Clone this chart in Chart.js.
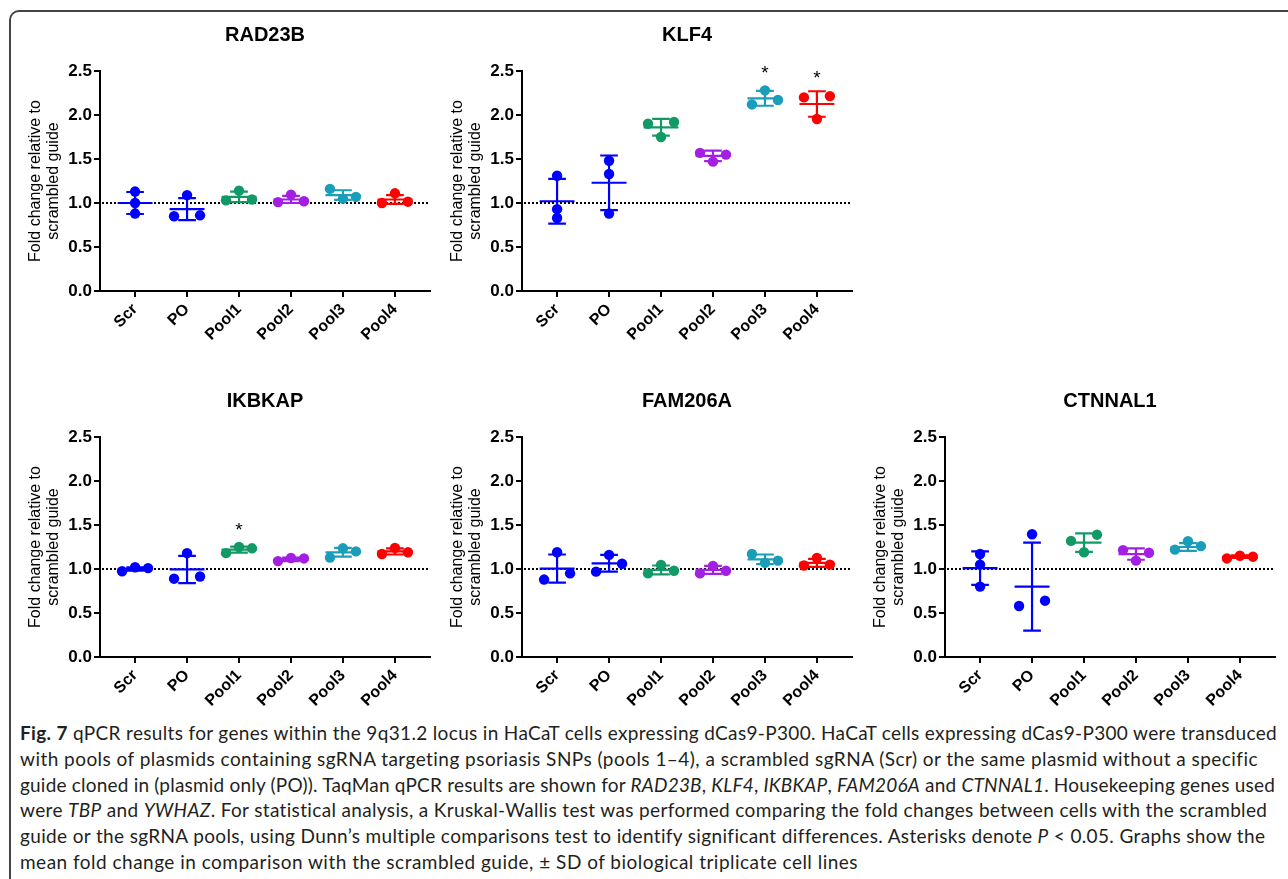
<!DOCTYPE html>
<html>
<head>
<meta charset="utf-8">
<script src="https://cdn.jsdelivr.net/npm/chart.js@4.4.0/dist/chart.umd.min.js"></script>
<style>
  html, body { margin: 0; padding: 0; background: #fff; }
  body { width: 1288px; height: 879px; position: relative; overflow: hidden; }
  .frame { position: absolute; left: 9px; top: 10px; right: 0; bottom: -20px;
           border-top: 2px solid #444; border-left: 2px solid #444; border-top-left-radius: 10px; }
  .panel { position: absolute; }
  .caption { position: absolute; left: 20px; top: 720px; font-family: Lato, 'Noto Sans', sans-serif;
             font-size: 19px; line-height: 25.8px; color: #231f20; white-space: nowrap; }
  .caption span { display: inline-block; }
</style>
</head>
<body>
<div class="frame"></div>
<canvas id="rad23b" class="panel" width="422" height="329" style="left:16px;top:22px"></canvas>
<canvas id="klf4" class="panel" width="422" height="329" style="left:438px;top:22px"></canvas>
<canvas id="ikbkap" class="panel" width="422" height="329" style="left:16px;top:388px"></canvas>
<canvas id="fam206a" class="panel" width="422" height="329" style="left:438px;top:388px"></canvas>
<canvas id="ctnnal1" class="panel" width="422" height="329" style="left:861px;top:388px"></canvas>

<div class="caption" id="caption">
  <div><span><b>Fig. 7</b> qPCR results for genes within the 9q31.2 locus in HaCaT cells expressing dCas9-P300. HaCaT cells expressing dCas9-P300 were transduced</span></div>
  <div><span>with pools of plasmids containing sgRNA targeting psoriasis SNPs (pools 1–4), a scrambled sgRNA (Scr) or the same plasmid without a specific</span></div>
  <div><span>guide cloned in (plasmid only (PO)). TaqMan qPCR results are shown for <i>RAD23B</i>, <i>KLF4</i>, <i>IKBKAP</i>, <i>FAM206A</i> and <i>CTNNAL1</i>. Housekeeping genes used</span></div>
  <div><span>were <i>TBP</i> and <i>YWHAZ</i>. For statistical analysis, a Kruskal-Wallis test was performed comparing the fold changes between cells with the scrambled</span></div>
  <div><span>guide or the sgRNA pools, using Dunn’s multiple comparisons test to identify significant differences. Asterisks denote <i>P</i> &lt; 0.05. Graphs show the</span></div>
  <div><span>mean fold change in comparison with the scrambled guide, ± SD of biological triplicate cell lines</span></div>
</div>

<script>
const groups = ['Scr', 'PO', 'Pool1', 'Pool2', 'Pool3', 'Pool4'];
const groupColors = ['#0000ff', '#0000ff', '#129a66', '#a21fe3', '#1a9db9', '#ff0000'];
const yTicks = [0, 0.5, 1.0, 1.5, 2.0, 2.5];

// RAD23B
const rad23bReps = [[1.13, 1.0, 0.88], [1.09, 0.85, 0.86], [1.14, 1.03, 1.04], [1.01, 1.095, 1.02], [1.16, 1.05, 1.07], [1.11, 1.0, 1.015]];
const rad23bMean = [1.0, 0.93, 1.07, 1.04, 1.09, 1.04];
const rad23bSd = [0.125, 0.125, 0.06, 0.04, 0.055, 0.05];
const rad23bStars = ['', '', '', '', '', ''];

// KLF4
const klf4Reps = [[1.31, 0.93, 0.83], [1.48, 1.33, 0.88], [1.90, 1.92, 1.75], [1.57, 1.47, 1.55], [2.28, 2.12, 2.17], [2.20, 2.215, 1.955]];
const klf4Mean = [1.02, 1.23, 1.86, 1.535, 2.19, 2.125];
const klf4Sd = [0.255, 0.31, 0.095, 0.06, 0.085, 0.145];
const klf4Stars = ['', '', '', '', '*', '*'];

// IKBKAP
const ikbkapReps = [[0.975, 1.02, 1.01], [1.18, 0.89, 0.915], [1.18, 1.25, 1.235], [1.09, 1.125, 1.12], [1.13, 1.235, 1.2], [1.17, 1.24, 1.19]];
const ikbkapMean = [1.0, 0.995, 1.22, 1.11, 1.19, 1.2];
const ikbkapSd = [0.02, 0.155, 0.035, 0.02, 0.05, 0.035];
const ikbkapStars = ['', '', '*', '', '', ''];

// FAM206A
const fam206aReps = [[1.19, 0.88, 0.95], [1.16, 0.97, 1.06], [0.95, 1.045, 0.98], [0.95, 1.035, 0.98], [1.17, 1.07, 1.095], [1.04, 1.125, 1.05]];
const fam206aMean = [1.005, 1.065, 0.99, 0.99, 1.11, 1.07];
const fam206aSd = [0.16, 0.095, 0.05, 0.045, 0.055, 0.045];
const fam206aStars = ['', '', '', '', '', ''];

// CTNNAL1
const ctnnal1Reps = [[1.17, 1.05, 0.80], [1.395, 0.58, 0.64], [1.32, 1.39, 1.19], [1.215, 1.095, 1.185], [1.22, 1.315, 1.26], [1.12, 1.15, 1.14]];
const ctnnal1Mean = [1.01, 0.80, 1.30, 1.17, 1.25, 1.14];
const ctnnal1Sd = [0.19, 0.50, 0.105, 0.065, 0.045, 0.015];
const ctnnal1Stars = ['', '', '', '', '', ''];

const FONT = "'Liberation Sans', Arial, sans-serif";

// replicas que se tocan se ponen lado a lado (como GraphPad)
function spread(vals) {
  const order = vals.map((v, i) => i).sort((a, b) => vals[a] - vals[b]);
  const rows = [];
  order.forEach(i => {
    const last = rows[rows.length - 1];
    if (last && vals[i] - vals[last[last.length - 1]] < 0.095) last.push(i);
    else rows.push([i]);
  });
  const off = new Array(vals.length).fill(0);
  rows.forEach(r => {
    r.sort((a, b) => a - b);
    const slots = r.length === 1 ? [0] : r.length === 2 ? [-1, 1] : [-1, 0, 1];
    r.forEach((i, k) => { off[i] = slots[k] * 0.25; });
  });
  return off;
}

// linea punteada, media +- SD, asteriscos y titulo del panel
const meanSdPlugin = {
  id: 'meanSd',
  beforeDatasetsDraw(chart) {
    const { ctx, chartArea, scales: { y } } = chart;
    const py = y.getPixelForValue(1);
    ctx.save();
    ctx.strokeStyle = '#000';
    ctx.lineWidth = 2;
    ctx.setLineDash([2, 2]);
    ctx.beginPath();
    ctx.moveTo(chartArea.left + 2, py);
    ctx.lineTo(chartArea.right, py);
    ctx.stroke();
    ctx.restore();
  },
  afterDatasetsDraw(chart, args, opts) {
    const { ctx, scales: { x, y } } = chart;
    ctx.save();
    ctx.lineWidth = 2.2;
    opts.mean.forEach((m, i) => {
      const s = opts.sd[i];
      ctx.strokeStyle = groupColors[i];
      const hi = y.getPixelForValue(m + s), lo = y.getPixelForValue(m - s), mid = y.getPixelForValue(m);
      ctx.beginPath();
      ctx.moveTo(x.getPixelForValue(i - 0.336), mid);
      ctx.lineTo(x.getPixelForValue(i + 0.336), mid);
      ctx.moveTo(x.getPixelForValue(i - 0.17), hi);
      ctx.lineTo(x.getPixelForValue(i + 0.17), hi);
      ctx.moveTo(x.getPixelForValue(i - 0.17), lo);
      ctx.lineTo(x.getPixelForValue(i + 0.17), lo);
      ctx.moveTo(x.getPixelForValue(i), hi);
      ctx.lineTo(x.getPixelForValue(i), lo);
      ctx.stroke();
      if (opts.stars[i]) {
        const top = Math.min(y.getPixelForValue(Math.max(...opts.reps[i])) - 5, hi - 1);
        ctx.fillStyle = '#000';
        ctx.font = '19px ' + FONT;
        ctx.textAlign = 'center';
        ctx.textBaseline = 'alphabetic';
        ctx.fillText(opts.stars[i], x.getPixelForValue(i), top - 17 + 11);
      }
    });
    ctx.restore();
  },
  afterDraw(chart, args, opts) {
    const { ctx, chartArea } = chart;
    ctx.save();
    ctx.fillStyle = '#000';
    ctx.font = 'bold 20px ' + FONT;
    ctx.textAlign = 'center';
    ctx.textBaseline = 'middle';
    ctx.fillText(opts.title, (chartArea.left + chartArea.right) / 2, chartArea.top - 35.5);
    ctx.restore();
  }
};

function makePanel(id, title, reps, mean, sd, stars) {
  const ctx = document.getElementById(id).getContext('2d');
  const datasets = reps.map((vals, i) => {
    const off = spread(vals);
    return {
      label: groups[i],
      data: vals.map((v, k) => ({ x: i + off[k], y: v })),
      backgroundColor: groupColors[i],
      borderWidth: 0,
      pointRadius: 5.2,
      pointHoverRadius: 5.2
    };
  });
  new Chart(ctx, {
    type: 'scatter',
    data: { datasets: datasets },
    options: {
      responsive: false,
      animation: false,
      layout: { padding: { left: 0, right: 8, top: 49, bottom: 0 } },
      scales: {
        x: {
          type: 'linear',
          min: -0.675,
          max: 5.675,
          afterBuildTicks: s => { s.ticks = groups.map((g, i) => ({ value: i })); },
          afterFit: s => { s.height = 60; },
          ticks: {
            callback: v => groups[v],
            minRotation: 45,
            maxRotation: 45,
            autoSkip: false,
            padding: 3,
            color: '#000',
            font: { family: FONT, size: 16, weight: 'bold' }
          },
          grid: { drawOnChartArea: false, color: '#000', lineWidth: 2, tickLength: 6 },
          border: { color: '#000', width: 2 }
        },
        y: {
          min: 0,
          max: 2.5,
          afterBuildTicks: s => { s.ticks = yTicks.map(v => ({ value: v })); },
          afterFit: s => { s.width = 84; },
          ticks: {
            callback: v => v.toFixed(1),
            padding: 2,
            color: '#000',
            font: { family: FONT, size: 17, weight: 'bold' }
          },
          grid: { drawOnChartArea: false, color: '#000', lineWidth: 2, tickLength: 6 },
          border: { color: '#000', width: 2 },
          title: {
            display: true,
            text: ['Fold change relative to', 'scrambled guide'],
            color: '#000',
            font: { family: FONT, size: 16, lineHeight: 1.15 },
            padding: { top: 10, bottom: 0 }
          }
        }
      },
      plugins: {
        legend: { display: false },
        tooltip: { enabled: false },
        meanSd: { title: title, reps: reps, mean: mean, sd: sd, stars: stars }
      }
    },
    plugins: [meanSdPlugin]
  });
}

makePanel('rad23b', 'RAD23B', rad23bReps, rad23bMean, rad23bSd, rad23bStars);
makePanel('klf4', 'KLF4', klf4Reps, klf4Mean, klf4Sd, klf4Stars);
makePanel('ikbkap', 'IKBKAP', ikbkapReps, ikbkapMean, ikbkapSd, ikbkapStars);
makePanel('fam206a', 'FAM206A', fam206aReps, fam206aMean, fam206aSd, fam206aStars);
makePanel('ctnnal1', 'CTNNAL1', ctnnal1Reps, ctnnal1Mean, ctnnal1Sd, ctnnal1Stars);

// cada linea del pie de figura termina donde en el original
const captionEnds = [1277, 1258, 1275, 1268, 1265, 858];
document.querySelectorAll('#caption span').forEach((sp, i) => {
  const w = sp.getBoundingClientRect().width;
  const target = captionEnds[i] - 20;
  sp.style.letterSpacing = ((target - w) / sp.textContent.length) + 'px';
});
</script>
</body>
</html>
